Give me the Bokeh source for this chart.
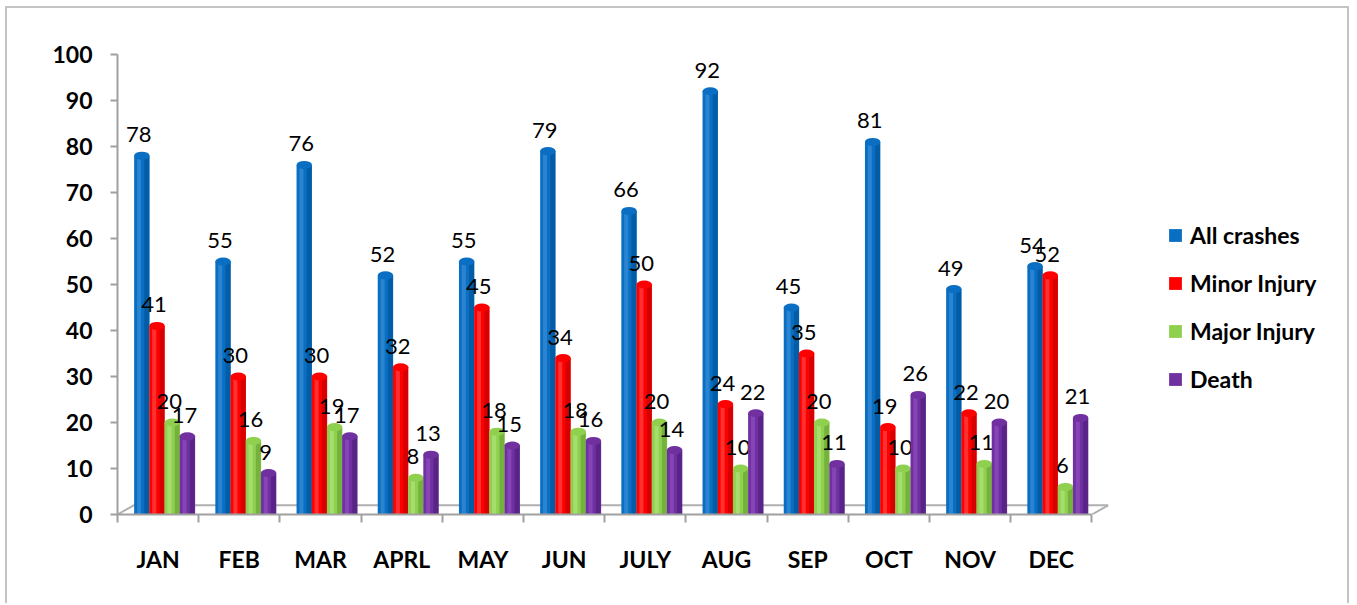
from bokeh.plotting import figure
from bokeh.models import Range1d, FixedTicker, Legend, LegendItem
from bokeh.core.properties import value
from bokeh.embed import file_html
from bokeh.resources import INLINE
import numpy as np

months = ["JAN", "FEB", "MAR", "APRL", "MAY", "JUN", "JULY", "AUG", "SEP", "OCT", "NOV", "DEC"]
all_crashes = [78, 55, 76, 52, 55, 79, 66, 92, 45, 81, 49, 54]
minor_injury = [41, 30, 30, 32, 45, 34, 50, 24, 35, 19, 22, 52]
major_injury = [20, 16, 19, 8, 18, 18, 20, 10, 20, 10, 11, 6]
death = [17, 9, 17, 13, 15, 16, 14, 22, 11, 26, 20, 21]
series_names = ["All crashes", "Minor Injury", "Major Injury", "Death"]
series_values = [all_crashes, minor_injury, major_injury, death]
y_ticks = list(range(0, 101, 10))

colors = ["#0a6fc2", "#ff0000", "#8fd14f", "#7030a0"]
dark = ["#00549a", "#c40000", "#6aa436", "#501f7c"]
light = ["#3f93dc", "#ff5050", "#b4e684", "#9254c4"]

FONT = "Lato"

n = len(months)
# frame spans x 117..1341 px; 12.2 units cover the chart floor (≈81.2 px per unit)
x_end = 1224 / 81.2

p = figure(width=1344, height=597, x_range=Range1d(0, x_end), y_range=Range1d(0, 100),
           output_backend="svg", toolbar_location=None,
           min_border_left=110, min_border_right=10, min_border_top=46, min_border_bottom=91)
p.styles = {"margin-left": "5px", "margin-top": "6px",
            "border-top": "2px solid #c4c4c4", "border-left": "2px solid #c4c4c4",
            "border-right": "2px solid #c4c4c4"}
p.outline_line_color = None
p.xgrid.visible = False
p.ygrid.visible = False
p.background_fill_color = "white"

axis_col = "#a0a0a0"
# y axis
p.yaxis.ticker = FixedTicker(ticks=y_ticks, minor_ticks=[])
p.yaxis.axis_line_color = axis_col
p.yaxis.axis_line_width = 2
p.yaxis.major_tick_line_color = axis_col
p.yaxis.major_tick_line_width = 2
p.yaxis.major_tick_in = 0
p.yaxis.major_tick_out = 7
p.yaxis.major_label_standoff = 18
p.yaxis.major_label_text_font = FONT
p.yaxis.major_label_text_font_style = "bold"
p.yaxis.major_label_text_font_size = "23px"
p.yaxis.major_label_text_color = "black"

# x axis
p.xaxis.ticker = FixedTicker(ticks=[i + 0.5 for i in range(n)],
                             minor_ticks=list(range(n + 1)))
p.xaxis.major_label_overrides = {i + 0.5: m for i, m in enumerate(months)}
p.xaxis.bounds = (0, n)
p.xaxis.axis_line_color = axis_col
p.xaxis.axis_line_width = 2
p.xaxis.major_tick_line_color = None
p.xaxis.minor_tick_line_color = axis_col
p.xaxis.minor_tick_line_width = 2
p.xaxis.minor_tick_in = 0
p.xaxis.minor_tick_out = 8
p.xaxis.major_label_standoff = 22
p.xaxis.major_label_text_font = FONT
p.xaxis.major_label_text_font_style = "bold"
p.xaxis.major_label_text_font_size = "23px"
p.xaxis.major_label_text_color = "black"

# 3D floor edges
p.multi_line(xs=[[0, 0.2, n + 0.2], [n, n + 0.2]], ys=[[0, 2, 2], [0, 2]],
             line_color="#b0b0b0", line_width=2)

idx = np.arange(n)
bar_w = 0.19
items = []
for s, (name, vals) in enumerate(zip(series_names, series_values)):
    xs = idx + 0.30 + s * 0.187
    r = p.vbar(x=xs, top=vals, bottom=0, width=bar_w, fill_color=colors[s], line_color=None)
    p.vbar(x=xs + 0.06, top=vals, bottom=0, width=0.06, fill_color=dark[s], line_color=None, fill_alpha=0.7)
    p.vbar(x=xs - 0.035, top=vals, bottom=0, width=0.05, fill_color=light[s], line_color=None, fill_alpha=0.6)
    p.ellipse(x=xs, y=vals, width=bar_w, height=8, width_units="data", height_units="screen",
              fill_color=colors[s], line_color=None)
    p.text(x=xs, y=vals, text=[str(v) for v in vals], x_offset=-3, y_offset=-21,
           text_align="center", text_baseline="alphabetic", text_font=value(FONT),
           text_font_size="22px", text_color="black")
    items.append(LegendItem(label=name, renderers=[r]))

legend = Legend(items=items, location=(1050, 121), orientation="vertical",
                glyph_width=16, glyph_height=16, label_standoff=7, spacing=20,
                padding=0, margin=0, border_line_color=None, background_fill_alpha=0,
                label_text_font=FONT, label_text_font_style="bold", label_text_font_size="23px",
                label_text_color="black")
p.add_layout(legend, "center")

open("out.html", "w").write(file_html(p, INLINE))
